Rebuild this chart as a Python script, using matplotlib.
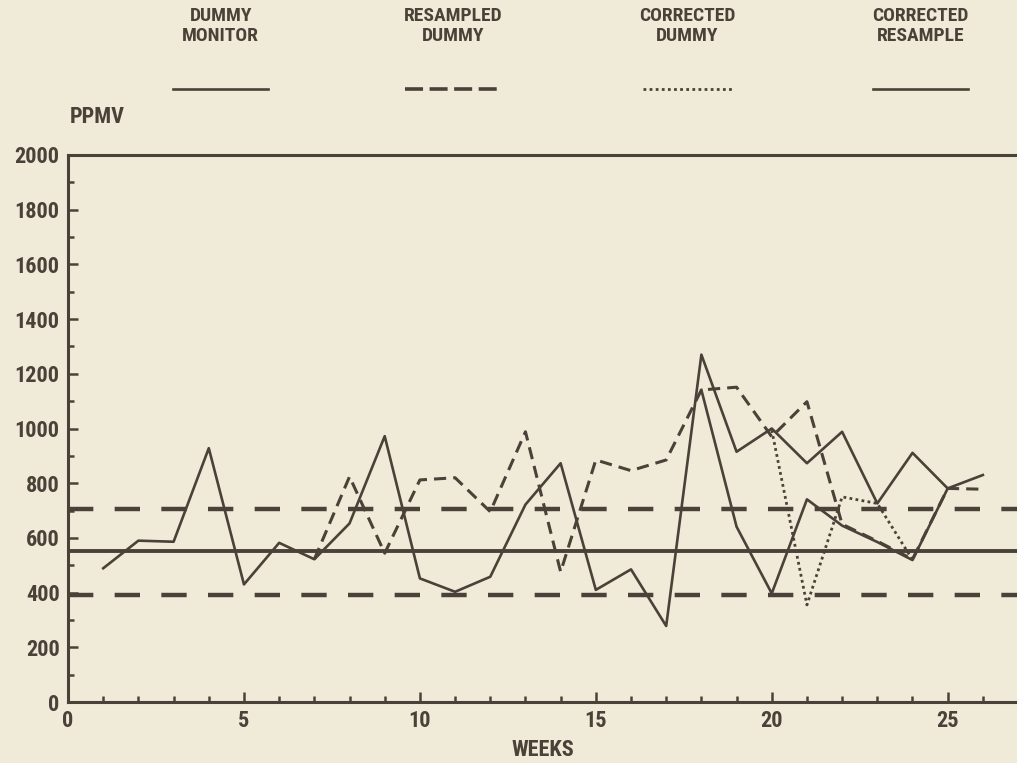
import numpy as np
import matplotlib
matplotlib.use("Agg")
import matplotlib.pyplot as plt
from matplotlib.lines import Line2D
from matplotlib.ticker import MultipleLocator
from matplotlib import font_manager

# weekly ppmv readings
weeks_dummy = [1, 2, 3, 4, 5, 6, 7, 8, 9, 10, 11, 12, 13, 14, 15, 16, 17, 18, 19, 20, 21, 22, 23, 24, 25, 26]
dummy_monitor = [489, 590, 586, 928, 430, 582, 522, 653, 972, 452, 403, 458, 722, 873, 410, 485, 278, 1270,
                 915, 1000, 873, 988, 726, 911, 781, 830]

weeks_resampled = [7, 8, 9, 10, 11, 12, 13, 14, 15, 16, 17, 18, 19, 20, 21, 22, 23, 24, 25, 26]
resampled_dummy = [522, 824, 544, 812, 820, 696, 988, 476, 885, 846, 885, 1141, 1151, 970, 1098, 650, 588,
                   522, 781, 778]

weeks_corr_dummy = [20, 21, 22, 23, 24]
corrected_dummy = [994, 355, 750, 726, 520]

weeks_corr_resample = [18, 19, 20, 21, 22, 23, 24, 25]
corrected_resample = [1141, 641, 397, 741, 645, 585, 519, 781]

# control limits
mean_level = 552
upper_limit = 706
lower_limit = 391

legend_names = ["DUMMY\nMONITOR", "RESAMPLED\nDUMMY", "CORRECTED\nDUMMY", "CORRECTED\nRESAMPLE"]

ink = "#4a4238"
paper = "#f0ebd9"

# narrow bold lettering if a condensed face is around
names = {f.name for f in font_manager.fontManager.ttflist}
narrow = [n for n in ["Liberation Sans Narrow", "DejaVu Sans Condensed", "Roboto Condensed"] if n in names]
font = narrow + ["DejaVu Sans"]
txt = dict(family=font, fontweight="bold", color=ink, fontstretch="condensed")

fig = plt.figure(figsize=(10.17, 7.63), dpi=100, facecolor=paper)
ax = fig.add_axes([0.0669, 0.0799, 0.9331, 0.717], facecolor=paper)

ax.axhline(mean_level, color=ink, lw=2.8)
ax.axhline(upper_limit, color=ink, lw=3.2, dashes=(5.7, 4.8))
ax.axhline(lower_limit, color=ink, lw=3.2, dashes=(5.7, 4.8))

ax.plot(weeks_dummy, dummy_monitor, color=ink, lw=1.9)
ax.plot(weeks_resampled, resampled_dummy, color=ink, lw=2.2, dashes=(4, 2.3))
ax.plot(weeks_corr_dummy, corrected_dummy, color=ink, lw=2.0, dashes=(1, 1.2))
ax.plot(weeks_corr_resample, corrected_resample, color=ink, lw=1.9)

ax.set_xlim(0, 26.97)
ax.set_ylim(0, 2000)

ax.spines["right"].set_visible(False)
for side in ["left", "bottom", "top"]:
    ax.spines[side].set_color(ink)
    ax.spines[side].set_linewidth(2.2)

ax.xaxis.set_major_locator(MultipleLocator(5))
ax.xaxis.set_minor_locator(MultipleLocator(1))
ax.yaxis.set_major_locator(MultipleLocator(200))
ax.yaxis.set_minor_locator(MultipleLocator(100))
ax.tick_params(which="both", direction="in", color=ink, width=1.8)
ax.tick_params(which="major", length=7, labelsize=16, labelcolor=ink, pad=6)
ax.tick_params(which="minor", length=4)
ax.tick_params(axis="x", top=False)
ax.tick_params(axis="y", right=False)
for lab in ax.get_xticklabels() + ax.get_yticklabels():
    lab.set_family(font)
    lab.set_fontweight("bold")
    lab.set_fontstretch("condensed")

ax.set_xlabel("WEEKS", fontsize=16, labelpad=5, **txt)
fig.text(0.069, 0.847, "PPMV", fontsize=16, ha="left", va="center", **txt)

# legend across the top
legend_x = [0.217, 0.4455, 0.676, 0.905]
legend_half = [0.047, 0.047, 0.044, 0.047]
legend_styles = [dict(lw=1.9), dict(lw=2.6, dashes=(5, 1.8)), dict(lw=2.0, dashes=(1, 1.2)), dict(lw=1.9)]
for xc, hw, name, style in zip(legend_x, legend_half, legend_names, legend_styles):
    fig.text(xc, 0.966, name, fontsize=14, ha="center", va="center", linespacing=1.15, **txt)
    fig.add_artist(Line2D([xc - hw, xc + hw], [0.884, 0.884], color=ink,
                          transform=fig.transFigure, **style))

fig.savefig("out.png", dpi=100, facecolor=paper)
